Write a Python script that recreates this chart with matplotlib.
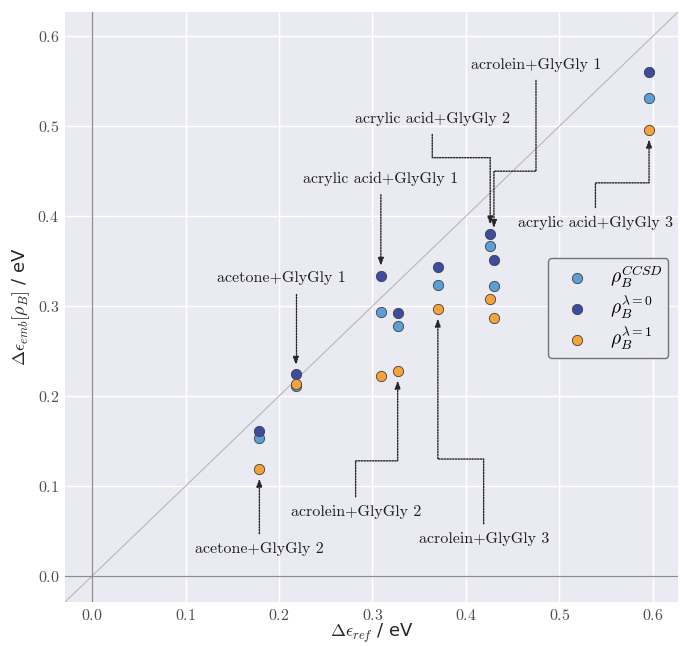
import matplotlib
matplotlib.use('Agg')
import matplotlib.pyplot as plt

# values
systems = ['acetone+GlyGly 2', 'acetone+GlyGly 1', 'acrylic acid+GlyGly 1',
           'acrolein+GlyGly 2', 'acrolein+GlyGly 3', 'acrylic acid+GlyGly 2',
           'acrolein+GlyGly 1', 'acrylic acid+GlyGly 3']
de_ref = [0.179, 0.218, 0.309, 0.327, 0.370, 0.426, 0.430, 0.596]
de_ccsd = [0.153, 0.211, 0.293, 0.278, 0.323, 0.367, 0.322, 0.531]
de_lam0 = [0.161, 0.224, 0.334, 0.292, 0.343, 0.380, 0.351, 0.560]
de_lam1 = [0.119, 0.213, 0.222, 0.228, 0.297, 0.308, 0.287, 0.496]

series_labels = [r'$\rho_B^{CCSD}$', r'$\rho_B^{\lambda=0}$', r'$\rho_B^{\lambda=1}$']
series_colors = ['#5b9fd6', '#3d4ba0', '#f5a23a']

plt.rcParams['font.family'] = 'cmr10'
plt.rcParams['mathtext.fontset'] = 'cm'
plt.rcParams['axes.formatter.use_mathtext'] = True

fig = plt.figure(figsize=(6.8, 6.46), dpi=100)
ax = fig.add_axes([0.0956, 0.068, 0.9015, 0.9135])
ax.set_facecolor('#eaeaf2')
for s in ax.spines.values():
    s.set_visible(False)
ax.grid(True, color='white', lw=1.0)
ax.set_axisbelow(True)
ax.tick_params(length=0, labelsize=11.5, labelcolor='0.3', pad=4)

lo, hi = -0.029, 0.627
ax.set_xlim(lo, hi)
ax.set_ylim(lo, hi)
ax.set_xticks([0.0, 0.1, 0.2, 0.3, 0.4, 0.5, 0.6])
ax.set_yticks([0.0, 0.1, 0.2, 0.3, 0.4, 0.5, 0.6])

ax.plot([lo, hi], [lo, hi], color='0.72', lw=0.8, zorder=1)
ax.axhline(0, color='0.55', lw=0.9, zorder=1)
ax.axvline(0, color='0.55', lw=0.9, zorder=1)

for vals, col, lab in zip([de_ccsd, de_lam0, de_lam1], series_colors, series_labels):
    ax.scatter(de_ref, vals, s=55, color=col, edgecolor='0.25', linewidth=0.6,
               zorder=3, label=lab)

# arm lengths of the connection styles are in display pixels
def px(dy):
    p0 = ax.transData.transform((0, 0))[1]
    p1 = ax.transData.transform((0, dy))[1]
    return abs(p1 - p0)

# (system index, target y, text position, y of the horizontal jog / style)
notes = [
    (0, de_lam1[0], (0.179, 0.030), None),
    (1, de_lam0[1], (0.203, 0.331), 'angle'),
    (2, de_lam0[2], (0.309, 0.441), None),
    (3, de_lam1[3], (0.282, 0.071), 0.128),
    (4, de_lam1[4], (0.419, 0.041), 0.130),
    (5, de_lam0[5], (0.364, 0.508), 0.465),
    (6, 0.376, (0.475, 0.568), 0.450),
    (7, de_lam1[7], (0.5386, 0.3925), 0.437),
]

for i, ty, (tx, tyy), turn in notes:
    xy = (de_ref[i], ty)
    if turn is None:
        cs = 'arc3,rad=0'
    elif turn == 'angle':
        cs = 'angle,angleA=0,angleB=90,rad=0'
    else:
        if tyy > turn:
            angA, angB = -90, 90
        else:
            angA, angB = 90, -90
        armA = px(tyy - turn)
        armB = px(turn - ty)
        cs = 'arc,angleA=%d,angleB=%d,armA=%.2f,armB=%.2f,rad=0' % (angA, angB, armA, armB)
    ax.annotate(systems[i], xy=xy, xytext=(tx, tyy), ha='center', va='center',
                fontsize=11.5, color='0.12', zorder=4,
                arrowprops=dict(arrowstyle='-|>,head_length=0.4,head_width=0.15',
                                connectionstyle=cs, linestyle=(0, (1, 1)),
                                lw=1.0, color='0.15', shrinkA=4, shrinkB=7))

ax.set_xlabel(r'$\Delta\epsilon_{ref}$ / eV', fontsize=13, family='DejaVu Sans',
              color='0.15', labelpad=-1)
ax.set_ylabel(r'$\Delta\epsilon_{emb}[\rho_B]$ / eV', fontsize=13, family='DejaVu Sans',
              color='0.15', labelpad=4)

leg = ax.legend(loc='upper left', bbox_to_anchor=(0.788, 0.5835), fontsize=14,
                facecolor='#eaeaf2', edgecolor='0.45', framealpha=1.0,
                borderaxespad=0, borderpad=0.3, labelspacing=0.2,
                handlelength=2.4, handletextpad=0.5, scatterpoints=1,
                markerscale=1.0)
leg.get_frame().set_linewidth(1.0)

fig.savefig('out.png', dpi=100)
